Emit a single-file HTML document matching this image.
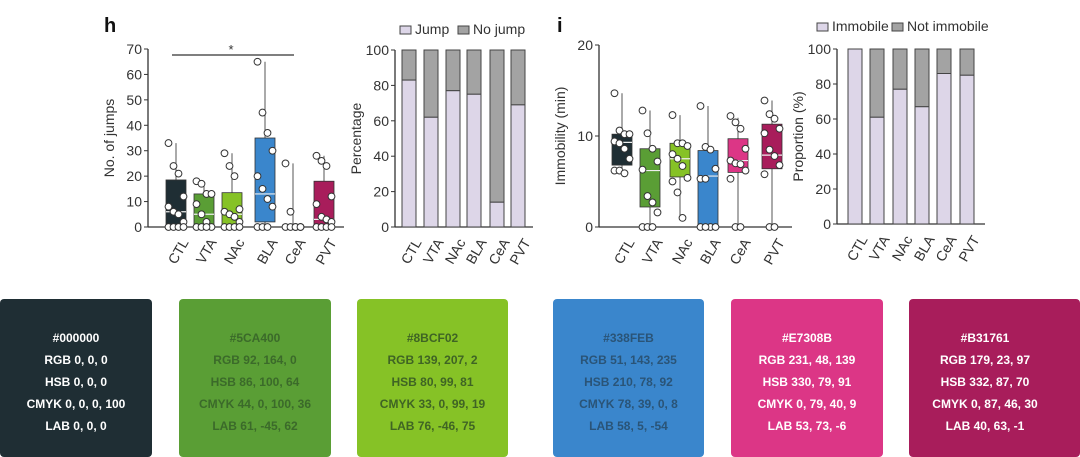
<!DOCTYPE html>
<html><head><meta charset="utf-8">
<style>
body{margin:0;width:1080px;height:457px;background:#fff;overflow:hidden;font-family:"Liberation Sans",sans-serif;position:relative}
svg{position:absolute;left:0;top:0}
.sw{position:absolute;top:299px;height:158px;border-radius:4px;font-weight:bold;font-size:12px;text-align:center}
.sw div{position:absolute;left:0;right:0}
</style></head><body>
<svg id="chart" width="1080" height="290" viewBox="0 0 1080 290" font-family="Liberation Sans, sans-serif"></svg>

<div class="sw" style="left:0;width:152px;background:#1f2e34;color:#fff"><div style="top:32px">#000000</div><div style="top:54px">RGB 0, 0, 0</div><div style="top:76px">HSB 0, 0, 0</div><div style="top:98px">CMYK 0, 0, 0, 100</div><div style="top:120px">LAB 0, 0, 0</div></div>
<div class="sw" style="left:179px;width:152px;background:#5a9e35;color:#3b6a2a"><div style="top:32px">#5CA400</div><div style="top:54px">RGB 92, 164, 0</div><div style="top:76px">HSB 86, 100, 64</div><div style="top:98px">CMYK 44, 0, 100, 36</div><div style="top:120px">LAB 61, -45, 62</div></div>
<div class="sw" style="left:357px;width:151px;background:#86c226;color:#3f6424"><div style="top:32px">#8BCF02</div><div style="top:54px">RGB 139, 207, 2</div><div style="top:76px">HSB 80, 99, 81</div><div style="top:98px">CMYK 33, 0, 99, 19</div><div style="top:120px">LAB 76, -46, 75</div></div>
<div class="sw" style="left:553px;width:151px;background:#3a86cc;color:#2a5477"><div style="top:32px">#338FEB</div><div style="top:54px">RGB 51, 143, 235</div><div style="top:76px">HSB 210, 78, 92</div><div style="top:98px">CMYK 78, 39, 0, 8</div><div style="top:120px">LAB 58, 5, -54</div></div>
<div class="sw" style="left:731px;width:152px;background:#dc3686;color:#fff"><div style="top:32px">#E7308B</div><div style="top:54px">RGB 231, 48, 139</div><div style="top:76px">HSB 330, 79, 91</div><div style="top:98px">CMYK 0, 79, 40, 9</div><div style="top:120px">LAB 53, 73, -6</div></div>
<div class="sw" style="left:909px;width:171px;background:#a81d5b;color:#fff"><div style="top:32px;width:152px">#B31761</div><div style="top:54px;width:152px">RGB 179, 23, 97</div><div style="top:76px;width:152px">HSB 332, 87, 70</div><div style="top:98px;width:152px">CMYK 0, 87, 46, 30</div><div style="top:120px;width:152px">LAB 40, 63, -1</div></div>

<script>
const groups=["CTL","VTA","NAc","BLA","CeA","PVT"];
const colors=["#1f2e34","#5a9e35","#86c226","#3a86cc","#dc3686","#a81d5b"];
// panel h box stats: [min,q1,median,q3,max]
const jumpStats=[[0,0,6,18.5,33],[0,0,5,13,18],[0,0,5,13.5,29],[0,2,13,35,65],[0,0,0,1,25],[0,0,3,18,28]];
const jumpPoints=[[33,24,21,12,8,6,5,2,0,0,0,0],[18,17,13,13,9,5,2,0,0,0,0],[29,24,20,7,6,5,4,2,0,0,0,0],[65,45,37,30,20,15,11,8,0,0,0],[25,6,0,0,0,0,0,0],[28,26,24,12,9,4,3,2,0,0,0,0]];
const jumpPct=[83,62,77,75,14,69];
const jumpTicks=[0,10,20,30,40,50,60,70];
const immStats=[[6,6.8,9.3,10.2,14.7],[0,2.2,6.2,8.6,12.8],[1,5.5,7.5,9.2,12.3],[0,0,5.6,8.4,13.3],[0,6,7.3,9.7,12],[0,6.4,7.9,11.3,13.9]];
const immPoints=[[14.7,10.6,10.2,10.2,9.4,9.2,8.6,7.5,6.2,6.2,5.9],[12.8,10.3,8.6,7.2,6.3,3.4,2.7,1.6,0,0,0],[12.3,9.2,9.2,8.9,8,7.5,6.7,5.4,5,3.8,1],[13.3,8.8,8.5,6.4,5.3,5.3,0,0,0,0],[12.2,11.5,10.8,8.6,7.3,7,6.9,6.2,5.3,0,0],[13.9,12.4,11.9,10.8,10.3,8.5,7.8,6.8,5.8,0,0]];
const immPct=[100,61,77,67,86,85];
const immTicks=[0,10,20];
const pctTicks=[0,20,40,60,80,100];

const svg=document.getElementById('chart');const NS='http://www.w3.org/2000/svg';
function mk(t,a,txt,name){const e=document.createElementNS(NS,t);for(const k in a)e.setAttribute(k,a[k]);if(txt!==undefined)e.textContent=txt;


svg.appendChild(e);return e;}

function axes(x0,xEnd,y0,yTop,vmax,ticks,title,cx,name){
  const ys=v=>y0-(y0-yTop)*v/vmax;
  mk('line',{x1:x0,y1:yTop,x2:x0,y2:y0,stroke:'#333','stroke-width':1.3},undefined,name+'-y-axis');
  mk('line',{x1:x0,y1:y0,x2:xEnd,y2:y0,stroke:'#333','stroke-width':1.3},undefined,name+'-x-axis');
  ticks.forEach(t=>{mk('line',{x1:x0-4,y1:ys(t),x2:x0,y2:ys(t),stroke:'#333'},undefined,name+'-tick');
    mk('text',{x:x0-6,y:ys(t)+5,'text-anchor':'end','font-size':14,fill:'#333'},t,name+'-tick-label');});
  const ty=(y0+yTop)/2;
  mk('text',{x:x0-34,y:ty,transform:`rotate(-90 ${x0-34} ${ty})`,'text-anchor':'middle','font-size':14,fill:'#333'},title,name+'-y-axis-title');
  groups.forEach((g,i)=>{const X=cx[i]+4,Y=y0+10;
    mk('text',{x:X,y:Y,transform:`rotate(-60 ${X} ${Y})`,'text-anchor':'end','dominant-baseline':'hanging','font-size':14,fill:'#333'},g,name+'-x-label');});
  return ys;
}
function boxes(x0,xEnd,y0,yTop,vmax,ticks,title,stats,pts,cx,w,name){
  const ys=axes(x0,xEnd,y0,yTop,vmax,ticks,title,cx,name);
  stats.forEach((s,i)=>{const c=cx[i];
    mk('line',{x1:c,y1:ys(s[0]),x2:c,y2:ys(s[4]),stroke:'#555'},undefined,name+'-whisker');
    mk('rect',{x:c-w/2,y:ys(s[3]),width:w,height:ys(s[1])-ys(s[3]),fill:colors[i],stroke:'#333','stroke-width':0.8},undefined,name+'-box-'+groups[i]);
    mk('line',{x1:c-w/2,y1:ys(s[2]),x2:c+w/2,y2:ys(s[2]),stroke:'#eee','stroke-width':1.2},undefined,name+'-median');
    pts[i].forEach((v,j)=>{const off=((j%4)-1.5)*5;
      mk('circle',{cx:c+off,cy:ys(v),r:3.4,fill:'#fff',stroke:'#333','stroke-width':1},undefined,name+'-point');});
  });
  return ys;
}
function stacks(x0,xEnd,y0,yTop,pct,title,cx,w,leg,name){
  const ys=axes(x0,xEnd,y0,yTop,100,pctTicks,title,cx,name);
  pct.forEach((p,i)=>{const c=cx[i];
    mk('rect',{x:c-w/2,y:ys(100),width:w,height:ys(p)-ys(100),fill:'#a3a3a3',stroke:'#444','stroke-width':1},undefined,name+'-bar-rest-'+groups[i]);
    mk('rect',{x:c-w/2,y:ys(p),width:w,height:ys(0)-ys(p),fill:'#ddd6e8',stroke:'#444','stroke-width':1},undefined,name+'-bar-main-'+groups[i]);
  });
  let lx=leg.x;
  [[leg.a,'#ddd6e8'],[leg.b,'#a3a3a3']].forEach(([t,f])=>{
    mk('rect',{x:lx,y:leg.y-8,width:11,height:8,fill:f,stroke:'#444'},undefined,name+'-legend-swatch');
    mk('text',{x:lx+15,y:leg.y,'font-size':14,fill:'#333'},t,name+'-legend-entry');lx+=leg.gap;});
}
mk('text',{x:104,y:32,'font-size':20,'font-weight':'bold',fill:'#111'},'h','panel-label-h');
mk('text',{x:557,y:32,'font-size':20,'font-weight':'bold',fill:'#111'},'i','panel-label-i');
const cxH=[176,204,232,265,293,324];
boxes(148,344,227,49,70,jumpTicks,'No. of jumps',jumpStats,jumpPoints,cxH,20,'jumps');
mk('line',{x1:172,y1:55,x2:294,y2:55,stroke:'#333','stroke-width':1.3},undefined,'significance-bar');
mk('text',{x:231,y:54,'text-anchor':'middle','font-size':13,fill:'#333'},'*','significance-star');
stacks(395,533,227,50,jumpPct,'Percentage',[409,431,453,474,497,518],14,{x:400,y:34,a:'Jump',b:'No jump',gap:58},'jump-pct');
const cxI=[622,650,680,708,738,772];
boxes(599,792,227,45,20,immTicks,'Immobility (min)',immStats,immPoints,cxI,20,'immobility');
stacks(837,985,224,49,immPct,'Proportion (%)',[855,877,900,922,944,967],14,{x:817,y:31,a:'Immobile',b:'Not immobile',gap:75},'immobile-pct');
</script>
</body></html>
